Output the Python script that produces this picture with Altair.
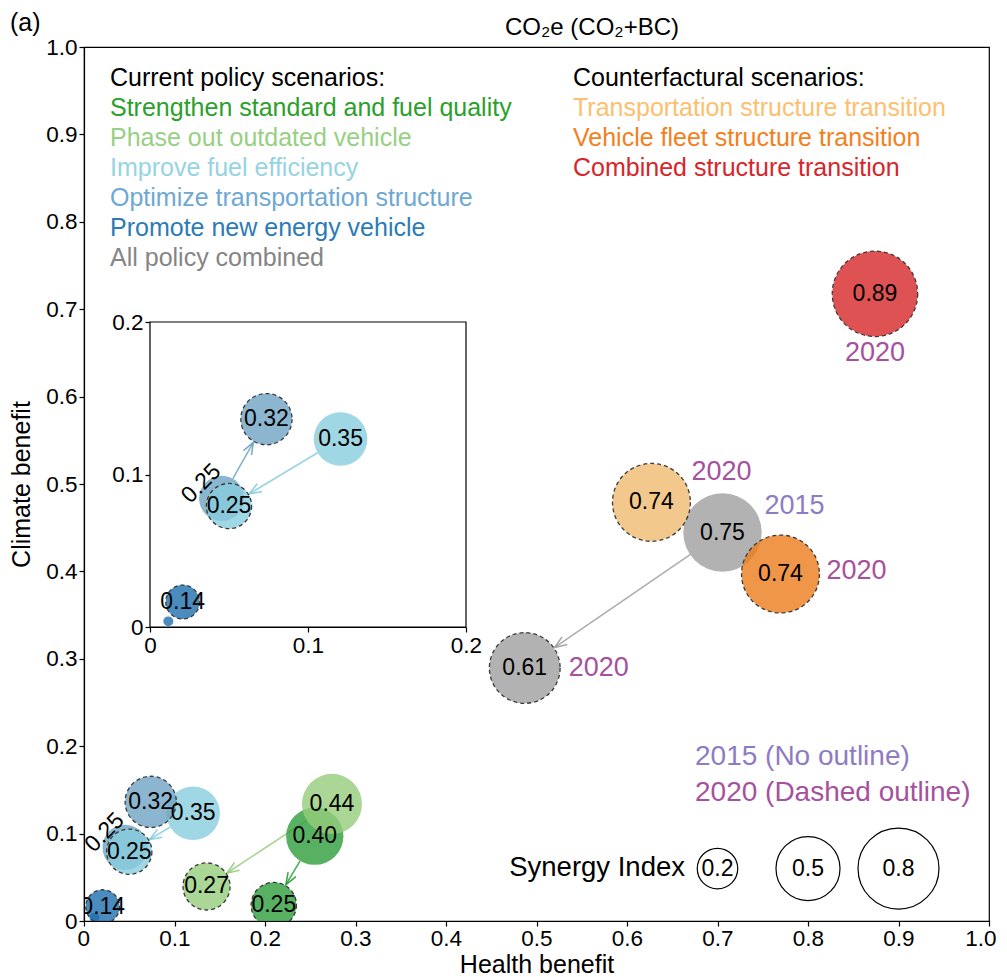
import altair as alt
import pandas as pd
import numpy as np

FONT = "Liberation Sans"
W, H = 905, 874

# ---------------- data ----------------
policy_names = [
    "Strengthen standard and fuel quality",
    "Phase out outdated vehicle",
    "Improve fuel efficiency",
    "Optimize transportation structure",
    "Promote new energy vehicle",
    "All policy combined",
]
policy_text_colors = ["#2ca02c", "#98d083", "#96d3e3", "#6ea8d3", "#2c7bb6", "#858585"]
policy_fill_colors = ["#2e9e3b", "#95cd7c", "#88cddd", "#6fa4c4", "#1e6fae", "#9e9f9e"]

health_2015 = [0.255, 0.274, 0.1206, 0.0454, 0.0116, 0.7055]
climate_2015 = [0.097, 0.134, 0.1233, 0.0843, 0.0037, 0.4445]
si_2015 = [0.40, 0.44, 0.35, 0.25, 0.012, 0.75]

health_2020 = [0.2097, 0.1354, 0.050, 0.0737, 0.0207, 0.487]
climate_2020 = [0.0183, 0.0395, 0.0793, 0.1363, 0.0164, 0.2895]
si_2020 = [0.25, 0.27, 0.25, 0.32, 0.14, 0.61]

cf_names = [
    "Transportation structure transition",
    "Vehicle fleet structure transition",
    "Combined structure transition",
]
cf_text_colors = ["#fdbf6f", "#f47f20", "#d7262b"]
cf_fill_colors = ["#f0ba6f", "#ec7c1a", "#d62728"]
cf_health = [0.627, 0.7696, 0.874]
cf_climate = [0.479, 0.397, 0.7176]
cf_si = [0.74, 0.74, 0.89]

inset_policies = ["Improve fuel efficiency", "Optimize transportation structure",
                  "Promote new energy vehicle"]
si_legend = [0.2, 0.5, 0.8]

x_ticks = [round(0.1 * i, 1) for i in range(11)]
inset_ticks = [0, 0.1, 0.2]
inset_domain = [0, 0.2]

C2015 = "#8e7cc3"
C2020 = "#a6519e"

# ---------------- tables ----------------
p15 = pd.DataFrame({"name": policy_names, "year": "2015", "health": health_2015,
                    "climate": climate_2015, "si": si_2015, "fill": policy_fill_colors})
p20 = pd.DataFrame({"name": policy_names, "year": "2020", "health": health_2020,
                    "climate": climate_2020, "si": si_2020, "fill": policy_fill_colors})
cf = pd.DataFrame({"name": cf_names, "year": "2020", "health": cf_health,
                   "climate": cf_climate, "si": cf_si, "fill": cf_fill_colors})
for d in (p15, p20, cf):
    d["ord"] = range(len(d))

SIZE_K = 8200  # symbol area (px^2) per unit synergy index


def arrows(px_x, px_y, names):
    rows = []
    for i, n in enumerate(policy_names):
        if n not in names:
            continue
        x0, y0, x1, y1 = health_2015[i], climate_2015[i], health_2020[i], climate_2020[i]
        r0 = np.sqrt(SIZE_K * si_2015[i]) / 2
        r1 = np.sqrt(SIZE_K * si_2020[i]) / 2 + 1
        dxp = (x1 - x0) * px_x
        dyp = -(y1 - y0) * px_y
        L = np.hypot(dxp, dyp)
        if L - r0 - r1 < 6:
            continue
        f0, f1 = r0 / L, 1 - r1 / L
        ang = (np.degrees(np.arctan2(dxp, -dyp)) + 360) % 360
        rows.append({"name": n, "ax": x0 + (x1 - x0) * f0, "ay": y0 + (y1 - y0) * f0,
                     "bx": x0 + (x1 - x0) * f1, "by": y0 + (y1 - y0) * f1,
                     "angle": ang, "fill": policy_fill_colors[i]})
    return pd.DataFrame(rows)


main_arrows = arrows(W, H, policy_names)
inset_arrows = arrows(316 / 0.2, 305 / 0.2, inset_policies)

leg_left = pd.DataFrame({"label": ["Current policy scenarios:"] + policy_names,
                         "color": ["black"] + policy_text_colors,
                         "rank": list(range(len(policy_names) + 1))})
leg_right = pd.DataFrame({"label": ["Counterfactural scenarios:"] + cf_names,
                          "color": ["black"] + cf_text_colors,
                          "rank": list(range(len(cf_names) + 1))})
si_leg = pd.DataFrame({"si": si_legend, "rank": list(range(len(si_legend)))})
frame = pd.DataFrame({"x": [inset_domain[0]], "x2": [inset_domain[1]],
                      "y": [inset_domain[0]], "y2": [inset_domain[1]]})

# ---------------- scales / axes ----------------
lab_expr = "datum.value == 0 ? '0' : format(datum.value, '.1f')"
xs = alt.Scale(domain=[0, 1], nice=False, zero=False)
ys = alt.Scale(domain=[0, 1], nice=False, zero=False)
ax_x = alt.Axis(values=x_ticks, labelExpr=lab_expr, title="Health benefit",
                labelPadding=1, titlePadding=3, labelFlush=1, labelFlushOffset=7)
ax_y = alt.Axis(values=x_ticks, labelExpr=lab_expr, title="Climate benefit",
                labelPadding=2, titlePadding=11, labelFlush=False)
size_scale = alt.Scale(domain=[0, 1], range=[0, SIZE_K], zero=True)

INSET_XR = [66, 382]
INSET_YR = [580, 275]
xsi = alt.Scale(domain=inset_domain, range=INSET_XR, nice=False, zero=False)
ysi = alt.Scale(domain=inset_domain, range=INSET_YR, nice=False, zero=False)
ax_xi = alt.Axis(orient="bottom", offset=-(H - INSET_YR[0]), values=inset_ticks,
                 labelExpr=lab_expr, title=None, labelPadding=2, labelFlush=False)
ax_yi = alt.Axis(orient="left", offset=-INSET_XR[0], values=inset_ticks,
                 labelExpr=lab_expr, title=None, labelPadding=2, labelFlush=False)


def X(f):
    return alt.X(f, scale=xs, axis=ax_x, title="Health benefit")


def Y(f):
    return alt.Y(f, scale=ys, axis=ax_y, title="Climate benefit")


def XI(f):
    return alt.X(f, scale=xsi, axis=ax_xi, title=None)


def YI(f):
    return alt.Y(f, scale=ysi, axis=ax_yi, title=None)


def bubble_layers(df15, df20, dfcf, xf, yf, arr, clip):
    layers = []
    if len(arr):
        layers.append(alt.Chart(arr).mark_rule(strokeWidth=1.6, opacity=0.85).encode(
            x=xf("ax:Q"), y=yf("ay:Q"), x2="bx:Q", y2="by:Q",
            color=alt.Color("fill:N", scale=None)))
        layers.append(alt.Chart(arr).mark_point(
            shape="M-0.38,1L0,0L0.38,1", filled=False, strokeWidth=1.6, size=576,
            opacity=0.9).encode(
            x=xf("bx:Q"), y=yf("by:Q"), angle=alt.Angle("angle:Q", scale=None),
            color=alt.Color("fill:N", scale=None)))
    layers.append(alt.Chart(df15).mark_circle(fillOpacity=0.8, clip=clip).encode(
        x=xf("health:Q"), y=yf("climate:Q"),
        size=alt.Size("si:Q", scale=size_scale, legend=None),
        color=alt.Color("fill:N", scale=None), order=alt.Order("ord:Q")))
    dashed = dict(stroke="#3a3a3a", strokeDash=[4, 3], strokeWidth=1.3, strokeOpacity=1,
                  fillOpacity=0.8, clip=clip)
    layers.append(alt.Chart(df20).mark_circle(**dashed).encode(
        x=xf("health:Q"), y=yf("climate:Q"),
        size=alt.Size("si:Q", scale=size_scale, legend=None),
        color=alt.Color("fill:N", scale=None), order=alt.Order("ord:Q")))
    if dfcf is not None:
        layers.append(alt.Chart(dfcf).mark_circle(**dashed).encode(
            x=xf("health:Q"), y=yf("climate:Q"),
            size=alt.Size("si:Q", scale=size_scale, legend=None),
            color=alt.Color("fill:N", scale=None), order=alt.Order("ord:Q")))
    alldf = pd.concat([df15, df20] + ([dfcf] if dfcf is not None else []))
    rot = (alldf["name"] == "Optimize transportation structure") & (alldf["year"] == "2015")
    normal = alldf[(~rot) & (alldf["si"] >= 0.05)]
    layers.append(alt.Chart(normal).mark_text(font=FONT, fontSize=23, color="black",
                                              baseline="middle", clip=clip).encode(
        x=xf("health:Q"), y=yf("climate:Q"), text=alt.Text("si:Q", format=".2f")))
    layers.append(alt.Chart(alldf[rot]).mark_text(font=FONT, fontSize=23, color="black",
                                                  baseline="middle", angle=315,
                                                  dx=-4, dy=-25).encode(
        x=xf("health:Q"), y=yf("climate:Q"), text=alt.Text("si:Q", format=".2f")))
    return layers


main_layers = bubble_layers(p15, p20, cf, X, Y, main_arrows, True)


# year labels next to the large bubbles
def year_label(df, name, dx, dy, color, align="left"):
    d = df[df["name"] == name]
    return alt.Chart(d).mark_text(font=FONT, fontSize=27, color=color, align=align,
                                  baseline="middle", dx=dx, dy=dy).encode(
        x=X("health:Q"), y=Y("climate:Q"), text="year:N")


main_layers += [
    year_label(cf, cf_names[0], 40, -30, C2020),
    year_label(cf, cf_names[1], 46, -3, C2020),
    year_label(cf, cf_names[2], 0, 59, C2020, "center"),
    year_label(p20, "All policy combined", 44, 0, C2020),
    year_label(p15, "All policy combined", 42, -27, C2015),
]

# scenario legends (text)
main_layers.append(alt.Chart(leg_left).transform_calculate(py="31 + 30*datum.rank").mark_text(
    font=FONT, fontSize=25, align="left", baseline="middle").encode(
    x=alt.value(26), y=alt.Y("py:Q", scale=None), text="label:N",
    color=alt.Color("color:N", scale=None)))
main_layers.append(alt.Chart(leg_right).transform_calculate(py="31 + 30*datum.rank").mark_text(
    font=FONT, fontSize=25, align="left", baseline="middle").encode(
    x=alt.value(489), y=alt.Y("py:Q", scale=None), text="label:N",
    color=alt.Color("color:N", scale=None)))

# outline legend
main_layers.append(alt.Chart(pd.DataFrame({"t": ["2015 (No outline)"]})).mark_text(
    font=FONT, fontSize=28, align="left", baseline="middle", color=C2015).encode(
    x=alt.value(611), y=alt.value(710), text="t:N"))
main_layers.append(alt.Chart(pd.DataFrame({"t": ["2020 (Dashed outline)"]})).mark_text(
    font=FONT, fontSize=28, align="left", baseline="middle", color=C2020).encode(
    x=alt.value(611), y=alt.value(746), text="t:N"))

# synergy index size legend
main_layers.append(alt.Chart(pd.DataFrame({"t": ["Synergy Index"]})).mark_text(
    font=FONT, fontSize=27.5, align="right", baseline="middle", color="black").encode(
    x=alt.value(601), y=alt.value(821), text="t:N"))
si_base = alt.Chart(si_leg).transform_calculate(lx="0.7 + 0.1*datum.rank", ly="0.06")
main_layers.append(si_base.mark_point(shape="circle", filled=False, stroke="black",
                                      strokeWidth=1.2, opacity=1).encode(
    x=X("lx:Q"), y=Y("ly:Q"), size=alt.Size("si:Q", scale=size_scale, legend=None)))
main_layers.append(si_base.mark_text(font=FONT, fontSize=23, color="black",
                                     baseline="middle").encode(
    x=X("lx:Q"), y=Y("ly:Q"), text=alt.Text("si:Q", format=".1f")))

# panel tag and panel title
main_layers.append(alt.Chart(pd.DataFrame({"t": ["(a)"]})).mark_text(
    font=FONT, fontSize=25, align="left", baseline="middle", color="black").encode(
    x=alt.value(-74), y=alt.value(-24), text="t:N"))
main_layers.append(alt.Chart(pd.DataFrame({"t": ["CO₂e (CO₂+BC)"]})).mark_text(
    font=FONT, fontSize=24, align="center", baseline="middle", color="black").encode(
    x=alt.value(508), y=alt.value(-19), text="t:N"))

main = alt.layer(*main_layers)

# ---------------- inset ----------------
ip15 = p15[p15["name"].isin(inset_policies)]
ip20 = p20[p20["name"].isin(inset_policies)]
inset_layers = [alt.Chart(frame).mark_rect(fill="white", stroke="black", strokeWidth=1.2).encode(
    x=XI("x:Q"), x2="x2:Q", y=YI("y:Q"), y2="y2:Q")]
inset_layers += bubble_layers(ip15, ip20, None, XI, YI, inset_arrows, False)
inset = alt.layer(*inset_layers)

chart = alt.layer(main, inset).resolve_scale(x="independent", y="independent").properties(
    width=W, height=H,
    padding={"left": 76, "top": 39, "right": 10, "bottom": 58},
    autosize=alt.AutoSizeParams(type="none"),
).configure_axis(
    labelFont=FONT, titleFont=FONT, labelFontSize=22.5, titleFontSize=25,
    labelColor="black", titleColor="black", domainColor="black", tickColor="black",
    tickSize=5, grid=False, domainWidth=1.2, tickWidth=1.2, titleFontWeight="normal",
).configure_view(stroke="black", strokeWidth=1.2)

chart.save("out.html", embed_options={"renderer": "svg", "actions": False})
